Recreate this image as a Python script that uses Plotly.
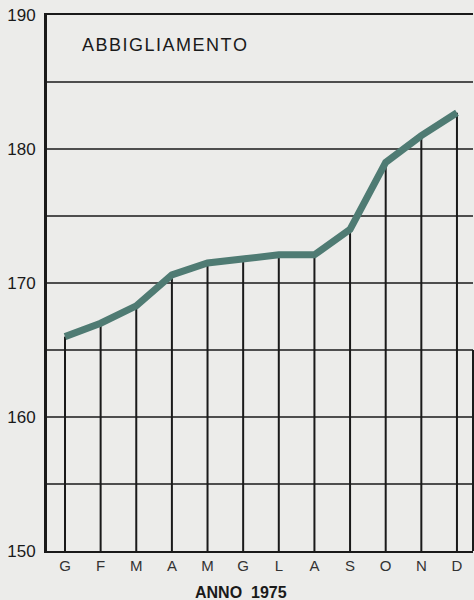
import plotly.graph_objects as go

months = ["G", "F", "M", "A", "M", "G", "L", "A", "S", "O", "N", "D"]
values = [166.0, 167.0, 168.3, 170.6, 171.5, 171.8, 172.1, 172.1, 174.0, 179.0, 181.0, 182.7]
y_ticks = [150, 160, 170, 180, 190]
title_text = "ABBIGLIAMENTO"
x_title = "ANNO  1975"
base = 150

xs = list(range(len(months)))

# vertical drop lines from base to each value
vx, vy = [], []
for i, v in zip(xs, values):
    vx += [i, i, None]
    vy += [base, v, None]

fig = go.Figure()
fig.add_trace(go.Scatter(x=vx, y=vy, mode="lines",
                         line=dict(color="#1a1a1a", width=2), hoverinfo="skip"))
fig.add_trace(go.Scatter(x=xs, y=values, mode="lines",
                         line=dict(color="#4f7b73", width=7), hoverinfo="skip"))

fig.update_layout(
    width=474, height=600,
    margin=dict(l=47, r=1, t=15, b=49, autoexpand=False),
    paper_bgcolor="#ececea", plot_bgcolor="#ececea",
    showlegend=False,
    xaxis=dict(range=[-0.505, 11.45], tickvals=xs, ticktext=months,
               showgrid=False, zeroline=False, automargin=False,
               showline=True, mirror=True, linecolor="#1a1a1a", linewidth=2,
               tickfont=dict(family="Liberation Sans, Arial, sans-serif", size=15, color="#333333"),
               ticks="", ticklabeloverflow="allow"),
    yaxis=dict(range=[150, 190], tickvals=y_ticks,
               showgrid=False, zeroline=False, automargin=False,
               showline=True, linecolor="#1a1a1a", linewidth=3,
               tickfont=dict(family="Liberation Sans, Arial, sans-serif", size=17, color="#1a1a1a"),
               ticks="", ticklabelstandoff=5, ticklabeloverflow="allow"),
)

# horizontal gridlines every 5 units
for g in range(155, 190, 5):
    fig.add_shape(type="line", xref="paper", yref="y", x0=0, x1=1, y0=g, y1=g,
                  line=dict(color="#1a1a1a", width=1.5), layer="below")

# partial right edge
fig.add_shape(type="line", xref="paper", yref="y", x0=1, x1=1, y0=150, y1=165,
              line=dict(color="#1a1a1a", width=2))

spaced_title = "\u200a".join(title_text)
fig.add_annotation(text=spaced_title, xref="x", yref="y", x=0.42, y=187.75,
                   xanchor="left", yanchor="middle", showarrow=False,
                   font=dict(family="Liberation Sans, Arial, sans-serif", size=18, color="#1a1a1a"))
fig.add_annotation(text="<b>" + x_title + "</b>", xref="paper", yref="paper", x=0.455, y=-0.0765,
                   xanchor="center", yanchor="middle", showarrow=False,
                   font=dict(family="Liberation Sans, Arial, sans-serif", size=16, color="#1a1a1a"))

fig.write_html("out.html",
               config={"displayModeBar": False, "staticPlot": True},
               post_script="document.body.style.margin='0';document.body.style.background='#ececea';")
